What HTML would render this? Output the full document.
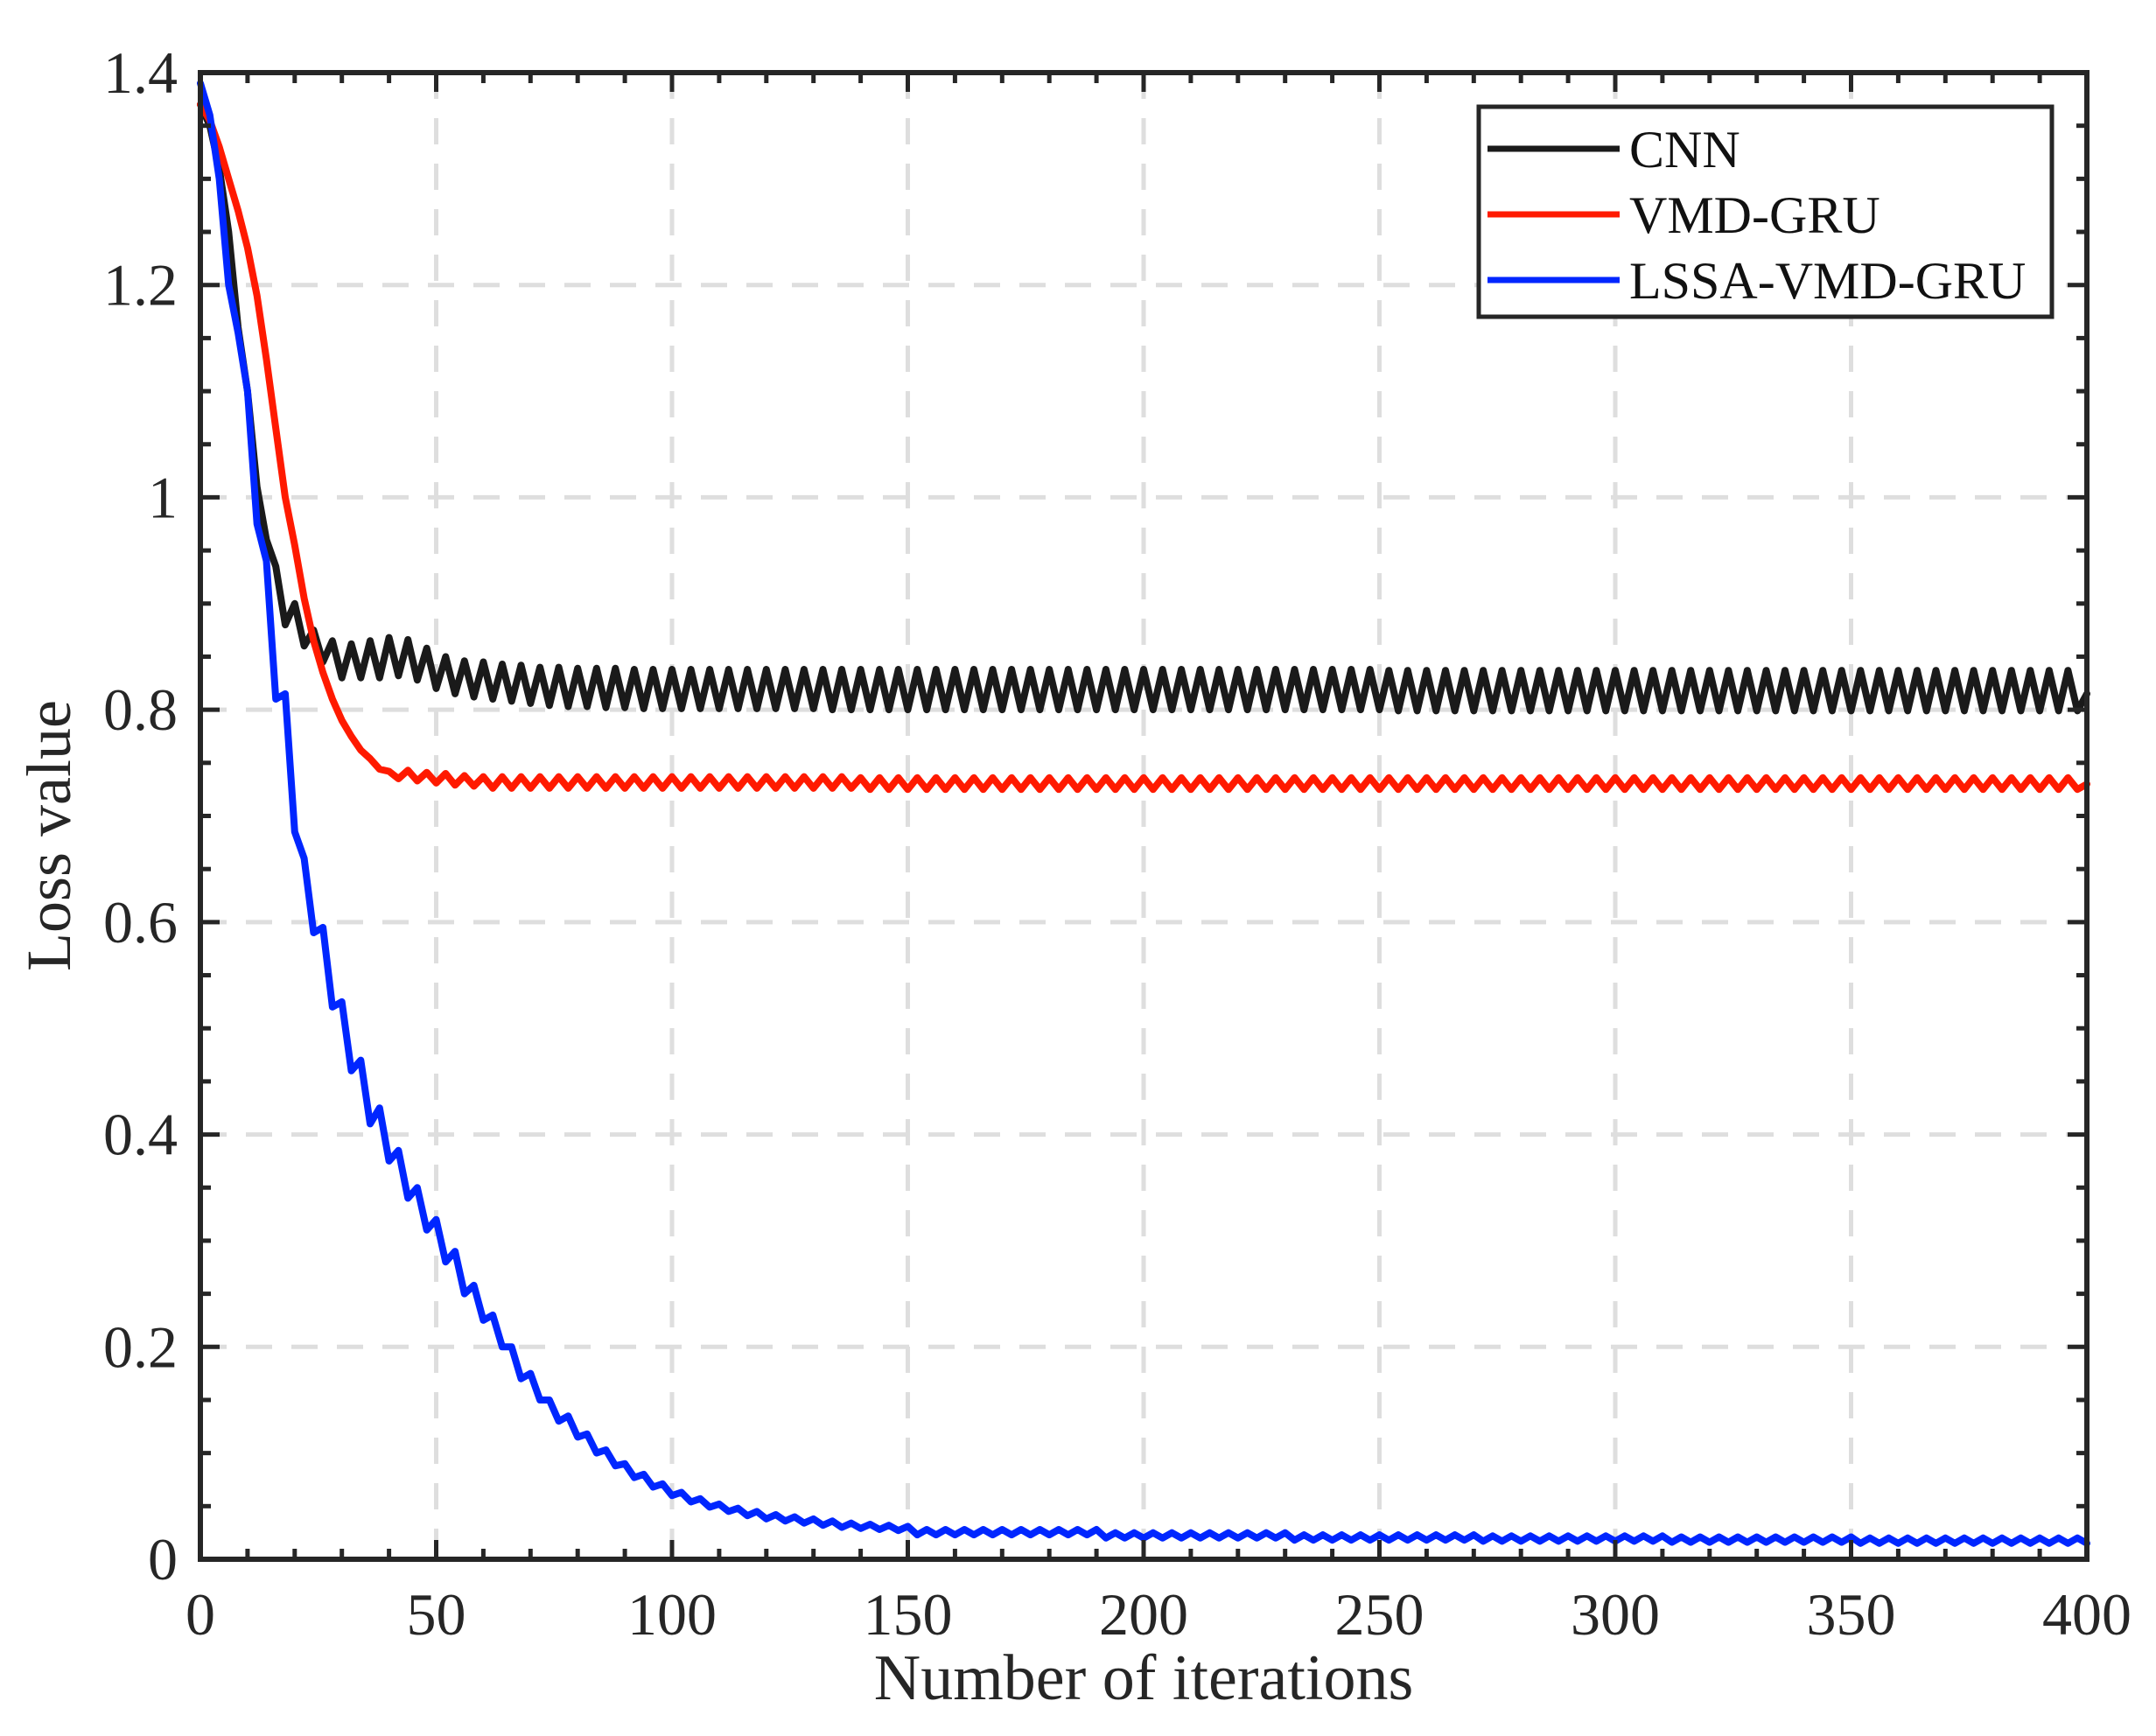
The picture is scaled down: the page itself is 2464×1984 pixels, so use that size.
<!DOCTYPE html>
<html><head><meta charset="utf-8"><style>
html,body{margin:0;padding:0;background:#fff;}
svg{display:block;font-family:"Liberation Serif",serif;}
</style></head><body>
<svg id="chart" width="2464" height="1984" viewBox="0 0 2464 1984" xmlns="http://www.w3.org/2000/svg">
<rect x="0" y="0" width="2464" height="1984" fill="#fff"/>
<g id="grid"></g>
<g id="series"></g>
<g id="axes"></g>
<text x="1307" y="1942" font-size="74" text-anchor="middle" fill="#262626">Number of iterations</text>
<text transform="translate(80,955) rotate(-90)" font-size="72" text-anchor="middle" fill="#262626">Loss value</text>
<g>
<rect x="1690" y="122" width="655" height="240" fill="#fff" stroke="#262626" stroke-width="5"/>
<line x1="1700" y1="170" x2="1851" y2="170" stroke="#1a1a1a" stroke-width="7"/>
<text x="1862" y="191" font-size="60" fill="#111">CNN</text>
<line x1="1700" y1="245" x2="1851" y2="245" stroke="#ff1a00" stroke-width="7"/>
<text x="1862" y="266" font-size="60" fill="#111">VMD-GRU</text>
<line x1="1700" y1="320" x2="1851" y2="320" stroke="#0026ff" stroke-width="7"/>
<text x="1862" y="341" font-size="60" fill="#111">LSSA-VMD-GRU</text>
</g>
</svg>
<script>
const iterStep = 2;
const xTicks = [0,50,100,150,200,250,300,350,400];
const yTicks = [0,0.2,0.4,0.6,0.8,1,1.2,1.4];
const yTickLabels = ["0","0.2","0.4","0.6","0.8","1","1.2","1.4"];
const cnnLoss = [1.37,1.35,1.31,1.25,1.16,1.10,1.01,0.96,0.935,0.88,0.90,0.86,0.875,0.845,0.865,0.83,0.862,0.83,0.865,0.83,
0.868,0.832,0.866,0.828,0.858,0.82,0.85,0.815,0.846,0.812,0.845,0.81,0.843,0.808,0.842,0.806,
0.840,0.804,0.840,0.803,0.839,0.803,0.839,0.802,0.839,0.802,
0.838,0.801,0.838,0.801,0.838,0.801,0.838,0.801,0.838,0.801,0.838,0.801,0.838,0.801,0.838,0.801,0.838,0.801,0.838,0.801,
0.838,0.800,0.838,0.800,0.838,0.800,0.838,0.800,0.838,0.800,0.838,0.800,0.838,0.800,0.838,0.800,0.838,0.800,0.838,0.800,
0.838,0.800,0.838,0.800,0.838,0.800,0.838,0.800,0.838,0.800,0.838,0.800,0.838,0.800,0.838,0.800,0.838,0.800,0.838,0.800,
0.838,0.800,0.838,0.800,0.838,0.800,0.838,0.800,0.838,0.800,0.838,0.800,0.838,0.800,0.838,0.800,0.838,0.800,0.838,0.800,
0.837,0.799,0.837,0.799,0.837,0.799,0.837,0.799,0.837,0.799,0.837,0.799,0.837,0.799,0.837,0.799,0.837,0.799,0.837,0.799,
0.837,0.799,0.837,0.799,0.837,0.799,0.837,0.799,0.837,0.799,0.837,0.799,0.837,0.799,0.837,0.799,0.837,0.799,0.837,0.799,
0.837,0.799,0.837,0.799,0.837,0.799,0.837,0.799,0.837,0.799,0.837,0.799,0.837,0.799,0.837,0.799,0.837,0.799,0.837,0.799,
0.837,0.799,0.837,0.799,0.837,0.799,0.837,0.799,0.837,0.799,0.837,0.799,0.837,0.799,0.815];
const vmdGruLoss = [1.37,1.355,1.33,1.30,1.27,1.235,1.19,1.13,1.065,1.0,0.955,0.905,0.865,0.835,0.81,0.79,0.775,0.762,0.754,0.744,
0.742,0.735,0.743,0.733,0.741,0.731,0.74,0.729,0.738,0.728,
0.737,0.726,0.737,0.726,0.737,0.726,0.737,0.726,0.737,0.726,0.737,0.726,0.737,0.726,0.737,0.726,0.737,0.726,0.737,0.726,
0.737,0.726,0.737,0.726,0.737,0.726,0.737,0.726,0.737,0.726,0.737,0.726,0.737,0.726,0.737,0.726,0.737,0.726,0.737,0.726,
0.736,0.725,0.736,0.725,0.736,0.725,0.736,0.725,0.736,0.725,0.736,0.725,0.736,0.725,0.736,0.725,0.736,0.725,0.736,0.725,
0.736,0.725,0.736,0.725,0.736,0.725,0.736,0.725,0.736,0.725,0.736,0.725,0.736,0.725,0.736,0.725,0.736,0.725,0.736,0.725,
0.736,0.725,0.736,0.725,0.736,0.725,0.736,0.725,0.736,0.725,0.736,0.725,0.736,0.725,0.736,0.725,0.736,0.725,0.736,0.725,
0.736,0.725,0.736,0.725,0.736,0.725,0.736,0.725,0.736,0.725,0.736,0.725,0.736,0.725,0.736,0.725,0.736,0.725,0.736,0.725,
0.736,0.725,0.736,0.725,0.736,0.725,0.736,0.725,0.736,0.725,0.736,0.725,0.736,0.725,0.736,0.725,0.736,0.725,0.736,0.725,
0.736,0.725,0.736,0.725,0.736,0.725,0.736,0.725,0.736,0.725,0.736,0.725,0.736,0.725,0.736,0.725,0.736,0.725,0.736,0.725,
0.736,0.725,0.736,0.725,0.736,0.725,0.736,0.725,0.736,0.725,0.730];
const lssaVmdGruLoss = [1.39,1.36,1.30,1.20,1.155,1.10,0.975,0.94,0.81,0.815,0.685,0.66,0.59,0.595,
0.52,0.525,0.46,0.47,0.41,0.425,0.375,0.385,0.34,0.35,0.31,0.32,0.28,0.29,0.25,0.258,0.225,0.23,0.2,0.2,0.17,0.175,
0.15,0.15,0.13,0.135,0.115,0.118,0.1,0.103,0.088,0.09,0.077,0.08,0.068,0.071,0.06,0.063,0.054,0.057,0.049,0.052,
0.045,0.048,0.041,0.045,0.038,0.042,0.036,0.04,0.034,0.038,0.032,0.036,0.030,0.034,0.029,0.033,0.028,0.032,0.027,0.031,
0.023,0.028,0.023,0.028,0.023,0.028,0.023,0.028,0.023,0.028,0.023,0.028,0.023,0.028,0.023,0.028,0.023,0.028,0.023,0.028,
0.020,0.025,0.020,0.025,0.020,0.025,0.020,0.025,0.020,0.025,0.020,0.025,0.020,0.025,0.020,0.025,0.020,0.025,0.020,0.025,
0.018,0.023,0.018,0.023,0.018,0.023,0.018,0.023,0.018,0.023,0.018,0.023,0.018,0.023,0.018,0.023,0.018,0.023,0.018,0.023,
0.017,0.022,0.017,0.022,0.017,0.022,0.017,0.022,0.017,0.022,0.017,0.022,0.017,0.022,0.017,0.022,0.017,0.022,0.017,0.022,
0.016,0.021,0.016,0.021,0.016,0.021,0.016,0.021,0.016,0.021,0.016,0.021,0.016,0.021,0.016,0.021,0.016,0.021,0.016,0.021,
0.015,0.020,0.015,0.020,0.015,0.020,0.015,0.020,0.015,0.020,0.015,0.020,0.015,0.020,0.015,0.020,0.015,0.020,0.015,0.020,
0.015,0.020,0.015,0.020,0.015];

const L=229,R=2385,T=83,B=1782,XMAX=400,YMAX=1.4;
function xs(v){return L+(R-L)*v/XMAX;}
function ys(v){return B-(B-T)*v/YMAX;}
const NS="http://www.w3.org/2000/svg";
function mk(tag,attrs,parent){const e=document.createElementNS(NS,tag);for(const k in attrs)e.setAttribute(k,attrs[k]);parent.appendChild(e);return e;}
const grid=document.getElementById('grid'),axes=document.getElementById('axes'),ser=document.getElementById('series');
xTicks.forEach(t=>{if(t===0||t===XMAX)return;
 const g=mk('line',{x1:xs(t),y1:T,x2:xs(t),y2:B,stroke:'#dedede','stroke-width':5,'stroke-dasharray':'30 22'},grid);
 
 });
yTicks.forEach(t=>{if(t===0||t===YMAX)return;
 const g=mk('line',{x1:L,y1:ys(t),x2:R,y2:ys(t),stroke:'#dedede','stroke-width':5,'stroke-dasharray':'30 22'},grid);
 
 });
function drawSeries(arr,color,name){
 const pts=arr.map((v,i)=>xs(Math.min(i*iterStep,XMAX)).toFixed(1)+','+ys(v).toFixed(1)).join(' ');
 const p=mk('polyline',{points:pts,fill:'none',stroke:color,'stroke-width':8,'stroke-linejoin':'round','stroke-linecap':'round'},ser);
 
 }
drawSeries(cnnLoss,'#1a1a1a','cnn-line');
drawSeries(vmdGruLoss,'#ff1a00','vmd-gru-line');
drawSeries(lssaVmdGruLoss,'#0026ff','lssa-vmd-gru-line');
for(let t=0;t<=XMAX;t+=10){const major=t%50===0,len=major?22:12;
 const a=mk('line',{x1:xs(t),y1:B,x2:xs(t),y2:B-len,stroke:'#262626','stroke-width':5},axes);
 
 
 const b=mk('line',{x1:xs(t),y1:T,x2:xs(t),y2:T+len,stroke:'#262626','stroke-width':5},axes);
 
 }
for(let k=0;k<=28;k++){const t=k*0.05,major=k%4===0,len=major?22:12;
 const a=mk('line',{x1:L,y1:ys(t),x2:L+len,y2:ys(t),stroke:'#262626','stroke-width':5},axes);
 
 
 const b=mk('line',{x1:R,y1:ys(t),x2:R-len,y2:ys(t),stroke:'#262626','stroke-width':5},axes);
 
 }
const frame=mk('rect',{x:L,y:T,width:R-L,height:B-T,fill:'none',stroke:'#262626','stroke-width':6},axes);


xTicks.forEach(t=>{const tx=mk('text',{x:xs(t),y:1868,'font-size':68,'text-anchor':'middle',fill:'#262626'},axes);tx.textContent=String(t);
 
 });
yTicks.forEach((t,i)=>{const tx=mk('text',{x:203,y:ys(t)+23,'font-size':68,'text-anchor':'end',fill:'#262626'},axes);tx.textContent=yTickLabels[i];
 
 });
</script>
</body></html>
